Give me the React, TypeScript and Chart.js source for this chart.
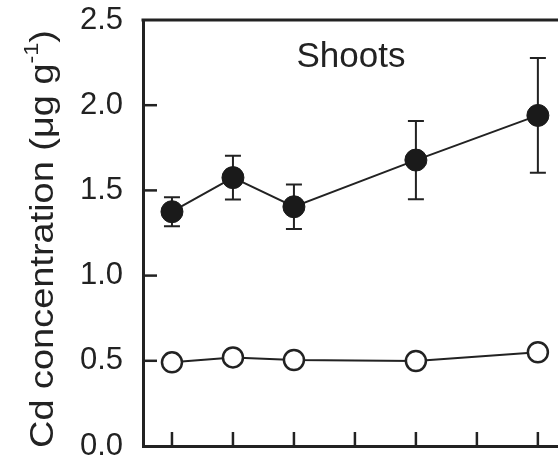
import React, { useEffect, useRef } from "react";
import { Chart, registerables } from "chart.js";

Chart.register(...registerables);

// ---- data ----
const xPositions = [0, 1, 2, 4, 6];
const xTickValues = [0, 1, 2, 3, 4, 5, 6];
const filledValues = [1.375, 1.575, 1.404, 1.678, 1.94];
const filledErrors = [0.085, 0.128, 0.131, 0.23, 0.337];
const openValues = [0.491, 0.52, 0.505, 0.499, 0.55];
const yTickValues = [0, 0.5, 1.0, 1.5, 2.0, 2.5];
const panelLabel = "Shoots";
const yTitleMain = "Cd concentration (μg g";
const yTitleSup = "-1";
const yTitleEnd = ")";

const INK = "#222222";
const FONT = "'Liberation Sans', Arial, Helvetica, sans-serif";

const customPlugin = {
  id: "custom",
  beforeDatasetsDraw(chart: any) {
    const ctx = chart.ctx;
    const xs = chart.scales.x;
    const ys = chart.scales.y;
    ctx.save();
    ctx.strokeStyle = INK;
    ctx.lineWidth = 2;
    xPositions.forEach((xv, i) => {
      const px = xs.getPixelForValue(xv);
      const top = ys.getPixelForValue(filledValues[i] + filledErrors[i]);
      const bot = ys.getPixelForValue(filledValues[i] - filledErrors[i]);
      ctx.beginPath();
      ctx.moveTo(px, top);
      ctx.lineTo(px, bot);
      ctx.moveTo(px - 8, top);
      ctx.lineTo(px + 8, top);
      ctx.moveTo(px - 8, bot);
      ctx.lineTo(px + 8, bot);
      ctx.stroke();
    });
    ctx.restore();
  },
  afterDraw(chart: any) {
    const ctx = chart.ctx;
    const xs = chart.scales.x;
    const ys = chart.scales.y;
    const area = chart.chartArea;
    ctx.save();
    ctx.strokeStyle = INK;
    ctx.lineWidth = 3;
    // top border
    ctx.beginPath();
    ctx.moveTo(area.left - 1.5, area.top);
    ctx.lineTo(chart.width, area.top);
    ctx.stroke();
    // inward ticks
    ctx.lineWidth = 2.5;
    yTickValues.forEach((v) => {
      if (v <= 0 || v >= 2.5) return;
      const py = ys.getPixelForValue(v);
      ctx.beginPath();
      ctx.moveTo(area.left, py);
      ctx.lineTo(area.left + 14, py);
      ctx.stroke();
    });
    xTickValues.forEach((v) => {
      const px = xs.getPixelForValue(v);
      ctx.beginPath();
      ctx.moveTo(px, area.bottom);
      ctx.lineTo(px, area.bottom - 14);
      ctx.stroke();
    });
    // panel label
    ctx.fillStyle = INK;
    ctx.font = `35px ${FONT}`;
    ctx.textAlign = "center";
    ctx.textBaseline = "alphabetic";
    ctx.fillText(panelLabel, 351, 67);
    // y title
    const mainFont = `34px ${FONT}`;
    const supFont = `21px ${FONT}`;
    ctx.font = mainFont;
    const w1 = ctx.measureText(yTitleMain).width;
    const w3 = ctx.measureText(yTitleEnd).width;
    ctx.font = supFont;
    const w2 = ctx.measureText(yTitleSup).width;
    const W = w1 + w2 + w3;
    const targetLen = 418;
    ctx.translate(53, 239);
    ctx.rotate(-Math.PI / 2);
    ctx.scale(targetLen / W, 1);
    ctx.textAlign = "left";
    let x0 = -W / 2;
    ctx.font = mainFont;
    ctx.fillText(yTitleMain, x0, 0);
    x0 += w1;
    ctx.font = supFont;
    ctx.fillText(yTitleSup, x0, -15);
    x0 += w2;
    ctx.font = mainFont;
    ctx.fillText(yTitleEnd, x0, 0);
    ctx.restore();
  },
};

export default function App() {
  const ref = useRef<HTMLCanvasElement | null>(null);
  useEffect(() => {
    if (!ref.current) return;
    const chart = new Chart(ref.current, {
      type: "line",
      data: {
        datasets: [
          {
            label: "filled",
            data: xPositions.map((x, i) => ({ x, y: filledValues[i] })),
            borderColor: INK,
            backgroundColor: "#1a1a1a",
            borderWidth: 2,
            pointRadius: 11,
            pointBorderWidth: 1,
            pointBorderColor: "#1a1a1a",
            pointBackgroundColor: "#1a1a1a",
          },
          {
            label: "open",
            data: xPositions.map((x, i) => ({ x, y: openValues[i] })),
            borderColor: INK,
            backgroundColor: "#ffffff",
            borderWidth: 2,
            pointRadius: 10,
            pointBorderWidth: 2.5,
            pointBorderColor: INK,
            pointBackgroundColor: "#ffffff",
          },
        ],
      },
      options: {
        animation: false,
        responsive: false,
        devicePixelRatio: 1,
        layout: { autoPadding: false, padding: { top: 20, right: 0, bottom: 0, left: 0 } },
        plugins: {
          legend: { display: false },
          tooltip: { enabled: false },
          title: { display: false },
        },
        scales: {
          x: {
            type: "linear",
            min: -0.475,
            max: 6.33,
            grid: { display: false, drawTicks: false },
            border: { display: true, color: INK, width: 3 },
            ticks: { display: false, stepSize: 1 },
            afterFit: (s: any) => {
              s.height = 14;
              s.paddingLeft = 0;
              s.paddingRight = 0;
            },
          },
          y: {
            type: "linear",
            min: 0,
            max: 2.5,
            grid: { display: false, drawTicks: false },
            border: { display: true, color: INK, width: 3 },
            ticks: {
              stepSize: 0.5,
              padding: 20,
              color: INK,
              font: { family: FONT, size: 31 },
              callback: (v: any) => Number(v).toFixed(1),
            },
            afterBuildTicks: (s: any) => {
              s.ticks = yTickValues.map((v) => ({ value: v }));
            },
            afterFit: (s: any) => {
              s.width = 143;
              s.paddingTop = 0;
              s.paddingBottom = 0;
            },
          },
        },
      },
      plugins: [customPlugin],
    });
    return () => chart.destroy();
  }, []);
  return (
    <div style={{ position: "fixed", left: 0, top: 0, width: 558, height: 460, overflow: "hidden", background: "#fff" }}>
      <canvas ref={ref} width={558} height={460} style={{ display: "block" }} />
    </div>
  );
}
